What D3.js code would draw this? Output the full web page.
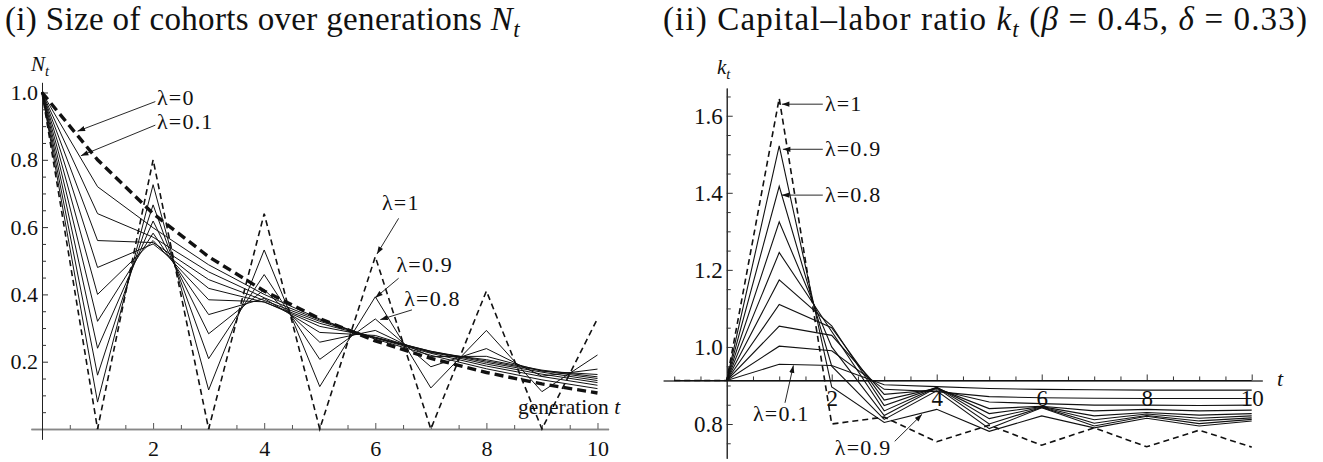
<!DOCTYPE html>
<html>
<head>
<meta charset="utf-8">
<script src="https://cdn.jsdelivr.net/npm/d3@7"></script>
<style>
  body { margin: 0; background: #fff; }
  svg text { font-family: "Liberation Serif", "DejaVu Serif", serif; fill: #111; }
</style>
</head>
<body>
<div class="chart"></div>
<script>
// lambda = 0, 0.1, ..., 1 (one row per lambda in the tables below)
const lambdas = [0, 0.1, 0.2, 0.3, 0.4, 0.5, 0.6, 0.7, 0.8, 0.9, 1];

// panel (i): cohort size N_t, t = 0..10
const genT = [0, 1, 2, 3, 4, 5, 6, 7, 8, 9, 10];
const cohortSizes = [
    [1, 0.8, 0.64, 0.512, 0.41, 0.328, 0.262, 0.21, 0.168, 0.134, 0.107],
    [1, 0.72, 0.598, 0.488, 0.4, 0.327, 0.267, 0.219, 0.179, 0.146, 0.12],
    [1, 0.64, 0.57, 0.467, 0.39, 0.324, 0.27, 0.225, 0.187, 0.156, 0.13],
    [1, 0.56, 0.554, 0.444, 0.382, 0.32, 0.271, 0.229, 0.193, 0.163, 0.138],
    [1, 0.48, 0.55, 0.418, 0.377, 0.314, 0.271, 0.231, 0.198, 0.169, 0.144],
    [1, 0.4, 0.56, 0.384, 0.378, 0.305, 0.273, 0.231, 0.202, 0.173, 0.15],
    [1, 0.32, 0.582, 0.34, 0.388, 0.287, 0.278, 0.227, 0.206, 0.175, 0.155],
    [1, 0.24, 0.618, 0.283, 0.414, 0.258, 0.293, 0.215, 0.216, 0.172, 0.162],
    [1, 0.16, 0.666, 0.209, 0.459, 0.207, 0.327, 0.185, 0.239, 0.157, 0.178],
    [1, 0.08, 0.726, 0.116, 0.532, 0.126, 0.393, 0.122, 0.293, 0.111, 0.22],
    [1, 0, 0.8, 0, 0.64, 0, 0.512, 0, 0.41, 0, 0.328]
];

// panel (ii): capital-labor ratio k_t, t = -1..10
const capT = [-1, 0, 1, 2, 3, 4, 5, 6, 7, 8, 9, 10];
const capitalRatio = [
    [0.913, 0.913, 0.913, 0.913, 0.913, 0.913, 0.913, 0.913, 0.913, 0.913, 0.913, 0.913],
    [0.913, 0.913, 0.955, 0.952, 0.902, 0.897, 0.892, 0.890, 0.889, 0.888, 0.888, 0.888],
    [0.913, 0.913, 1.002, 0.990, 0.890, 0.884, 0.871, 0.868, 0.867, 0.866, 0.866, 0.866],
    [0.913, 0.913, 1.054, 1.030, 0.877, 0.889, 0.857, 0.853, 0.849, 0.849, 0.848, 0.849],
    [0.913, 0.913, 1.110, 1.050, 0.862, 0.893, 0.840, 0.846, 0.834, 0.838, 0.834, 0.836],
    [0.913, 0.913, 1.174, 1.055, 0.848, 0.895, 0.827, 0.845, 0.821, 0.830, 0.823, 0.827],
    [0.913, 0.913, 1.245, 1.040, 0.834, 0.895, 0.814, 0.844, 0.811, 0.826, 0.815, 0.821],
    [0.913, 0.913, 1.325, 1.000, 0.822, 0.894, 0.800, 0.843, 0.802, 0.822, 0.808, 0.816],
    [0.913, 0.913, 1.417, 0.950, 0.812, 0.886, 0.788, 0.842, 0.795, 0.820, 0.801, 0.812],
    [0.913, 0.913, 1.522, 0.896, 0.804, 0.838, 0.781, 0.821, 0.790, 0.815, 0.795, 0.808],
    [0.913, 0.913, 1.645, 0.800, 0.818, 0.754, 0.797, 0.745, 0.790, 0.741, 0.784, 0.740]
];

const genTicks = [2, 4, 6, 8, 10];
const nTicks = [0.2, 0.4, 0.6, 0.8, 1.0];
const kTicks = [0.8, 1.0, 1.2, 1.4, 1.6];

const W = 1323, H = 462;

const svg = d3.select('.chart')
    .append('svg')
    .attr('width', W)
    .attr('height', H);

svg.append('rect').attr('width', W).attr('height', H).attr('fill', '#fff');

svg.append('defs').append('marker')
    .attr('id', 'arr')
    .attr('viewBox', '0 0 10 8')
    .attr('refX', 10)
    .attr('refY', 4)
    .attr('markerUnits', 'userSpaceOnUse')
    .attr('markerWidth', 8)
    .attr('markerHeight', 6)
    .attr('orient', 'auto')
    .append('path')
    .attr('d', 'M0,0.5 L10,4 L0,7.5 Z')
    .attr('fill', '#111');

// text with italic / subscript pieces
function rich(g, x, y, size, parts, anchor) {
    const t = g.append('text')
        .attr('x', x).attr('y', y)
        .attr('font-size', size)
        .attr('text-anchor', anchor || 'start');
    parts.forEach(p => {
        const sp = t.append('tspan').text(p.s);
        if (p.it) sp.attr('font-style', 'italic');
        if (p.sub) sp.attr('font-size', size * 0.7).attr('dy', size * 0.22);
        if (p.up) sp.attr('dy', -size * 0.22);
    });
    return t;
}

// loosen letter spacing so a title spans the given width
function fitWidth(t, width) {
    const w = t.node().getComputedTextLength();
    const n = t.text().length;
    if (w < width) t.attr('letter-spacing', (width - w) / n);
}

function lineStyle(sel) {
    sel.attr('fill', 'none')
        .attr('stroke', '#111')
        .attr('stroke-linejoin', 'miter');
}

// ---------- panel (i) ----------
const xN = d3.scaleLinear().domain([-0.2, 10.2]).range([30.9, 608.6]);
const yN = d3.scaleLinear().domain([-0.03, 1.03]).range([439.1, 82.4]);

const left = svg.append('g');

const titleL = rich(left, 5, 30, 33, [
    { s: '(i) Size of cohorts over generations ' },
    { s: 'N', it: true },
    { s: 't', it: true, sub: true }
]);
fitWidth(titleL, 515);

// axes: x axis grey, ticks pointing up
const xAxN = left.append('g').attr('transform', `translate(0,${yN(0)})`);
xAxN.call(d3.axisBottom(xN).tickValues(genTicks).tickSize(-6).tickPadding(11).tickSizeOuter(0).tickFormat(d3.format('d')));
xAxN.append('g').call(d3.axisBottom(xN)
    .tickValues(d3.range(1, 21).map(d => d / 2).filter(d => d % 2 !== 0))
    .tickSize(-4).tickSizeOuter(0).tickFormat(''));
xAxN.selectAll('.domain').attr('stroke', '#888').attr('stroke-width', 1.6);
xAxN.selectAll('.tick line').attr('stroke', '#555');
xAxN.selectAll('.tick text').attr('font-size', 22).attr('fill', '#111');

const yAxN = left.append('g').attr('transform', `translate(${xN(0)},0)`);
yAxN.call(d3.axisLeft(yN).tickValues(nTicks).tickSize(-6).tickPadding(4).tickSizeOuter(0).tickFormat(d3.format('.1f')));
yAxN.append('g').call(d3.axisLeft(yN)
    .tickValues(d3.range(1, 21).map(d => d / 20).filter(d => Math.round(d * 20) % 4 !== 0))
    .tickSize(-4).tickSizeOuter(0).tickFormat(''));
yAxN.selectAll('.domain').attr('stroke', '#222').attr('stroke-width', 1);
yAxN.selectAll('.tick line').attr('stroke', '#333');
yAxN.selectAll('.tick text').attr('font-size', 22).attr('fill', '#111');

const lineN = d3.line().x((d, i) => xN(genT[i])).y(d => yN(d));

left.append('g').selectAll('path')
    .data(cohortSizes)
    .join('path')
    .attr('d', lineN)
    .call(lineStyle)
    .attr('stroke-width', (d, i) => i === 0 ? 3.4 : (i === 10 ? 1.6 : 1))
    .attr('stroke-dasharray', (d, i) => i === 0 ? '9,5' : (i === 10 ? '6,4' : null));

rich(left, 31, 71, 21, [{ s: 'N', it: true }, { s: 't', it: true, sub: true }]);
rich(left, 518, 414, 21.5, [{ s: 'generation ' }, { s: ' t', it: true }]);

// ---------- panel (ii) ----------
const xK = d3.scaleLinear().domain([-1.21, 10.2]).range([663.2, 1262.2]);
const yK = d3.scaleLinear().domain([0.711, 1.672]).range([458.3, 88]);
const kCross = capitalRatio[0][0];

const right = svg.append('g');

const titleR = rich(right, 663, 30, 33, [
    { s: '(ii) Capital\u2013labor ratio ' },
    { s: 'k', it: true },
    { s: 't', it: true, sub: true },
    { s: ' (', up: true },
    { s: '\u03B2', it: true },
    { s: ' = 0.45, ' },
    { s: '\u03B4', it: true },
    { s: ' = 0.33)' }
]);
fitWidth(titleR, 645);

const xAxK = right.append('g').attr('transform', `translate(0,${yK(kCross)})`);
xAxK.call(d3.axisBottom(xK).tickValues(genTicks).tickSize(-6).tickPadding(9).tickSizeOuter(0).tickFormat(d3.format('d')));
xAxK.append('g').call(d3.axisBottom(xK)
    .tickValues(d3.range(-2, 21).map(d => d / 2).filter(d => d !== 0 && d % 2 !== 0))
    .tickSize(-4).tickSizeOuter(0).tickFormat(''));
xAxK.selectAll('.domain').attr('stroke', '#666').attr('stroke-width', 1.6);
xAxK.selectAll('.tick line').attr('stroke', '#333');
xAxK.selectAll('.tick text').attr('font-size', 23).attr('fill', '#333');

const yAxK = right.append('g').attr('transform', `translate(${xK(0)},0)`);
yAxK.call(d3.axisLeft(yK).tickValues(kTicks).tickSize(-6).tickPadding(4).tickSizeOuter(0).tickFormat(d3.format('.1f')));
yAxK.append('g').call(d3.axisLeft(yK)
    .tickValues(d3.range(15, 34).map(d => d / 20).filter(d => Math.round(d * 20) % 4 !== 0))
    .tickSize(-4).tickSizeOuter(0).tickFormat(''));
yAxK.selectAll('.domain').attr('stroke', '#222').attr('stroke-width', 1);
yAxK.selectAll('.tick line').attr('stroke', '#333');
yAxK.selectAll('.tick text').attr('font-size', 23).attr('fill', '#111');

const lineK = d3.line().x((d, i) => xK(capT[i])).y(d => yK(d));

right.append('g').selectAll('path')
    .data(capitalRatio)
    .join('path')
    .attr('d', lineK)
    .call(lineStyle)
    .attr('stroke-width', (d, i) => i === 10 ? 1.6 : 1.1)
    .attr('stroke-dasharray', (d, i) => i === 10 ? '6,4' : null);

rich(right, 717, 74, 21, [{ s: 'k', it: true }, { s: 't', it: true, sub: true }]);
rich(right, 1277, 386, 22, [{ s: 't', it: true }]);

// ---------- lambda call-outs (data coordinates) ----------
const callouts = [
    { g: left, x: xN, y: yN, lam: 0, tip: [0.64, 0.885], tail: [2.04, 0.973], text: [2.07, 0.962] },
    { g: left, x: xN, y: yN, lam: 0.1, tip: [0.7, 0.812], tail: [2.04, 0.903], text: [2.07, 0.893] },
    { g: left, x: xN, y: yN, lam: 1, tip: [6.03, 0.52], tail: [6.42, 0.626], text: [6.12, 0.652] },
    { g: left, x: xN, y: yN, lam: 0.9, tip: [6.0, 0.39], tail: [6.42, 0.448], text: [6.38, 0.468] },
    { g: left, x: xN, y: yN, lam: 0.8, tip: [6.09, 0.325], tail: [6.66, 0.354], text: [6.52, 0.366] },
    { g: right, x: xK, y: yK, lam: 1, tip: [1.05, 1.63], tail: [1.83, 1.63], text: [1.87, 1.612] },
    { g: right, x: xK, y: yK, lam: 0.9, tip: [1.07, 1.513], tail: [1.83, 1.513], text: [1.87, 1.495] },
    { g: right, x: xK, y: yK, lam: 0.8, tip: [1.05, 1.394], tail: [1.83, 1.394], text: [1.87, 1.377] },
    { g: right, x: xK, y: yK, lam: 0.1, tip: [1.27, 0.952], tail: [1.11, 0.855], text: [0.5, 0.807] },
    { g: right, x: xK, y: yK, lam: 0.9, tip: [3.72, 0.825], tail: [3.2, 0.755], text: [2.06, 0.719] }
];

callouts.forEach(c => {
    c.g.append('line')
        .attr('x1', c.x(c.tail[0])).attr('y1', c.y(c.tail[1]))
        .attr('x2', c.x(c.tip[0])).attr('y2', c.y(c.tip[1]))
        .attr('stroke', '#111')
        .attr('stroke-width', 0.9)
        .attr('marker-end', 'url(#arr)');
    c.g.append('text')
        .attr('x', c.x(c.text[0]))
        .attr('y', c.y(c.text[1]))
        .attr('font-size', 22)
        .attr('letter-spacing', 1.2)
        .text('\u03BB=' + c.lam);
});
</script>
</body>
</html>
